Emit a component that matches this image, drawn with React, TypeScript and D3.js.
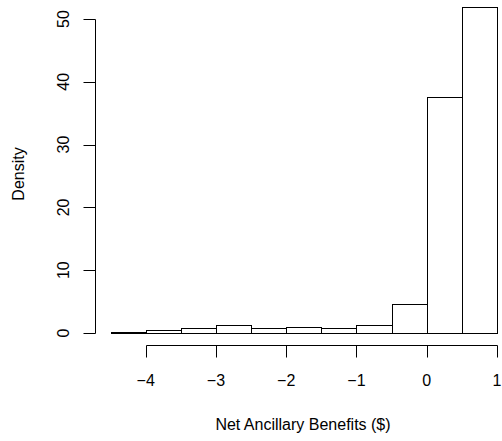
import { useEffect, useRef } from "react";
import * as d3 from "d3";

const breaks = [-4.5, -4, -3.5, -3, -2.5, -2, -1.5, -1, -0.5, 0, 0.5, 1];
const density = [0.15, 0.55, 0.75, 1.25, 0.85, 0.9, 0.75, 1.3, 4.6, 37.6, 51.9];
const xTicks = [-4, -3, -2, -1, 0, 1];
const yTicks = [0, 10, 20, 30, 40, 50];
const xTitle = "Net Ancillary Benefits ($)";
const yTitle = "Density";

export default function App() {
  const ref = useRef<SVGSVGElement>(null);

  useEffect(() => {
    const svg = d3.select(ref.current);
    svg.selectAll("*").remove();

    const width = 502;
    const height = 441;
    const font = "Liberation Sans, Arial, sans-serif";

    const x = d3.scaleLinear().domain([-4, 1]).range([145.7, 497]);
    const y = d3.scaleLinear().domain([0, 50]).range([333, 19]);

    svg.append("rect").attr("width", width).attr("height", height).attr("fill", "#fff");

    const bins = density.map((d, i) => ({ x0: breaks[i], x1: breaks[i + 1], d }));

    // bars
    svg
      .append("g")
      .selectAll("rect")
      .data(bins)
      .join("rect")
      .attr("x", (b) => Math.round(x(b.x0)) + 0.5)
      .attr("width", (b) => Math.round(x(b.x1)) - Math.round(x(b.x0)))
      .attr("y", (b) => Math.round(y(b.d)) + 0.5)
      .attr("height", (b) => Math.max(0, Math.round(y(0)) - Math.round(y(b.d))))
      .attr("fill", "none")
      .attr("stroke", "#000")
      .attr("stroke-width", 1);

    // y axis
    const axisX = 95.5;
    const yAxis = svg.append("g").attr("stroke", "#000").attr("fill", "none");
    yAxis
      .append("line")
      .attr("x1", axisX)
      .attr("x2", axisX)
      .attr("y1", Math.round(y(0)) + 0.5)
      .attr("y2", Math.round(y(50)) + 0.5);
    yAxis
      .selectAll("line.tick")
      .data(yTicks)
      .join("line")
      .attr("class", "tick")
      .attr("x1", axisX)
      .attr("x2", axisX - 12)
      .attr("y1", (d) => Math.round(y(d)) + 0.5)
      .attr("y2", (d) => Math.round(y(d)) + 0.5);

    svg
      .append("g")
      .selectAll("text")
      .data(yTicks)
      .join("text")
      .attr("transform", (d) => `translate(68.5,${y(d)}) rotate(-90)`)
      .attr("text-anchor", "middle")
      .attr("font-family", font)
      .attr("font-size", 16)
      .text((d) => d);

    // x axis
    const axisY = 345.5;
    const xAxis = svg.append("g").attr("stroke", "#000").attr("fill", "none");
    xAxis
      .append("line")
      .attr("x1", Math.round(x(-4)) + 0.5)
      .attr("x2", Math.round(x(1)) + 0.5)
      .attr("y1", axisY)
      .attr("y2", axisY);
    xAxis
      .selectAll("line.tick")
      .data(xTicks)
      .join("line")
      .attr("class", "tick")
      .attr("x1", (d) => Math.round(x(d)) + 0.5)
      .attr("x2", (d) => Math.round(x(d)) + 0.5)
      .attr("y1", axisY)
      .attr("y2", axisY + 12);

    svg
      .append("g")
      .selectAll("text")
      .data(xTicks)
      .join("text")
      .attr("x", (d) => x(d))
      .attr("y", 386)
      .attr("text-anchor", "middle")
      .attr("font-family", font)
      .attr("font-size", 16)
      .text((d) => (d < 0 ? "\u2212" + Math.abs(d) : String(d)));

    // titles
    svg
      .append("text")
      .attr("x", 303)
      .attr("y", 430)
      .attr("text-anchor", "middle")
      .attr("font-family", font)
      .attr("font-size", 16)
      .text(xTitle);

    svg
      .append("text")
      .attr("transform", "translate(23.5,174) rotate(-90)")
      .attr("text-anchor", "middle")
      .attr("font-family", font)
      .attr("font-size", 16)
      .text(yTitle);
  }, []);

  return (
    <svg
      ref={ref}
      width={502}
      height={441}
      style={{ position: "absolute", left: 0, top: 0 }}
    />
  );
}
